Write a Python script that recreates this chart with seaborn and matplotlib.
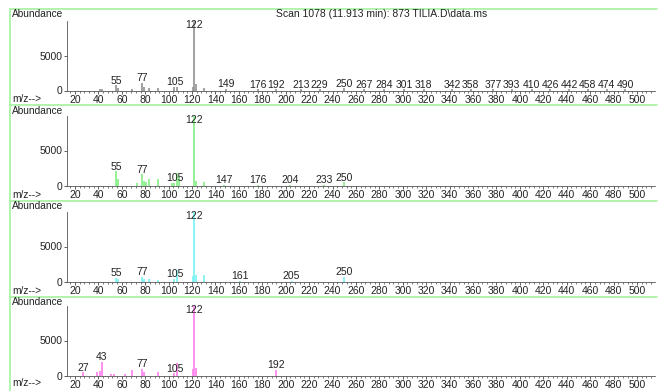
import numpy as np
import seaborn as sns
import matplotlib
matplotlib.use("Agg")
import matplotlib.pyplot as plt
from matplotlib.lines import Line2D
from matplotlib.ticker import MultipleLocator

# spectrum data (m/z, abundance)
mz_1 = [41, 43, 55, 57, 69, 77, 79, 83, 91, 105, 107, 121, 122, 123, 130,
        149, 176, 192, 213, 229, 250, 267, 284, 301, 318, 342, 358, 377,
        393, 410, 426, 442, 458, 474, 490]
ab_1 = [150, 200, 750, 400, 250, 1100, 500, 420, 420, 500, 560, 500, 10000, 890, 420,
        250, 150, 150, 150, 150, 300, 150, 150, 150, 150, 150, 150, 150,
        150, 150, 150, 150, 150, 150, 150]
lab_1 = [55, 77, 105, 122, 149, 176, 192, 213, 229, 250, 267, 284, 301, 318,
         342, 358, 377, 393, 410, 426, 442, 458, 474, 490]

mz_2 = [55, 56, 57, 73, 77, 79, 81, 83, 91, 103, 105, 107, 109, 122, 123, 130,
        147, 176, 204, 233, 250]
ab_2 = [2050, 1000, 900, 330, 1600, 700, 480, 860, 860, 330, 400, 1800, 1200, 10000, 700, 570,
        100, 100, 100, 100, 430]
lab_2 = [55, 77, 105, 122, 147, 176, 204, 233, 250]

mz_3 = [55, 57, 77, 79, 83, 91, 105, 107, 121, 122, 123, 130, 161, 205, 250]
ab_3 = [550, 300, 700, 300, 400, 250, 400, 1600, 780, 10000, 1000, 1000, 100, 100, 650]
lab_3 = [55, 77, 105, 122, 161, 205, 250]

mz_4 = [27, 39, 41, 43, 51, 53, 63, 69, 77, 79, 91, 105, 107, 121, 122, 123, 192]
ab_4 = [460, 500, 600, 2000, 280, 280, 230, 830, 1000, 460, 460, 300, 1750, 970, 10000, 1060, 850]
lab_4 = [27, 43, 77, 105, 122, 192]

colors = ["#9a9a9a", "#8ef08e", "#7ff4f4", "#ff88ee"]
title = "Scan 1078 (11.913 min): 873 TILIA.D\\data.ms"

sns.set_theme(style="ticks")
plt.rcParams["font.family"] = ["Liberation Sans", "DejaVu Sans"]

W, H = 660, 391
fig = plt.figure(figsize=(W / 100, H / 100), dpi=100)

# pixel layout
baselines = [90.5, 185.5, 281.5, 375.5]
abund_y = [14, 111, 206, 302]
mz_y = [99.5, 195, 291, 383.5]
x0, x1 = 67, 655
axh = 70

panels = [(mz_1, ab_1, lab_1), (mz_2, ab_2, lab_2),
          (mz_3, ab_3, lab_3), (mz_4, ab_4, lab_4)]

txt = "#222222"
for i, (mz, ab, labs) in enumerate(panels):
    b = baselines[i]
    ax = fig.add_axes([x0 / W, (H - b) / H, (x1 - x0) / W, axh / H])
    ax.set_facecolor("none")
    ax.vlines(mz, 0, ab, color=colors[i], lw=1.3)
    ax.set_xlim(13.2, 515.4)
    ax.set_ylim(0, 10000)
    ax.set_xticks(np.arange(20, 501, 20))
    ax.xaxis.set_minor_locator(MultipleLocator(4))
    ax.set_yticks([0, 5000])
    ax.tick_params(axis="both", which="major", labelsize=7.5, length=2.5,
                   width=0.6, pad=1.0, colors="#444444", labelcolor=txt)
    ax.tick_params(axis="x", which="minor", length=1.5, width=0.5, colors="#444444")
    sns.despine(ax=ax)
    for s in ["left", "bottom"]:
        ax.spines[s].set_linewidth(0.6)
        ax.spines[s].set_color("#555555")
    lookup = dict(zip(mz, ab))
    for m in labs:
        h = lookup.get(m, 100)
        ax.text(m, min(h + 650, 9300), str(m), ha="center", va="center",
                fontsize=7.5, color=txt)
    fig.text(12 / W, 1 - abund_y[i] / H, "Abundance", ha="left", va="center",
             fontsize=7.3, color=txt)
    fig.text(12 / W, 1 - mz_y[i] / H, "m/z-->", ha="left", va="center",
             fontsize=7.3, color=txt)

fig.text(382 / W, 1 - 14 / H, title, ha="center", va="center", fontsize=7.5, color=txt)

# light green panel frames
green = "#a6f0a0"
def hline(y, xa=10, xb=657):
    fig.add_artist(Line2D([xa / W, xb / W], [1 - y / H, 1 - y / H], color=green, lw=1.2))
hline(9)
hline(105)
hline(201)
hline(297)
fig.add_artist(Line2D([10 / W, 10 / W], [1 - 9 / H, 0], color=green, lw=1.2))

fig.savefig("out.png", dpi=100)
